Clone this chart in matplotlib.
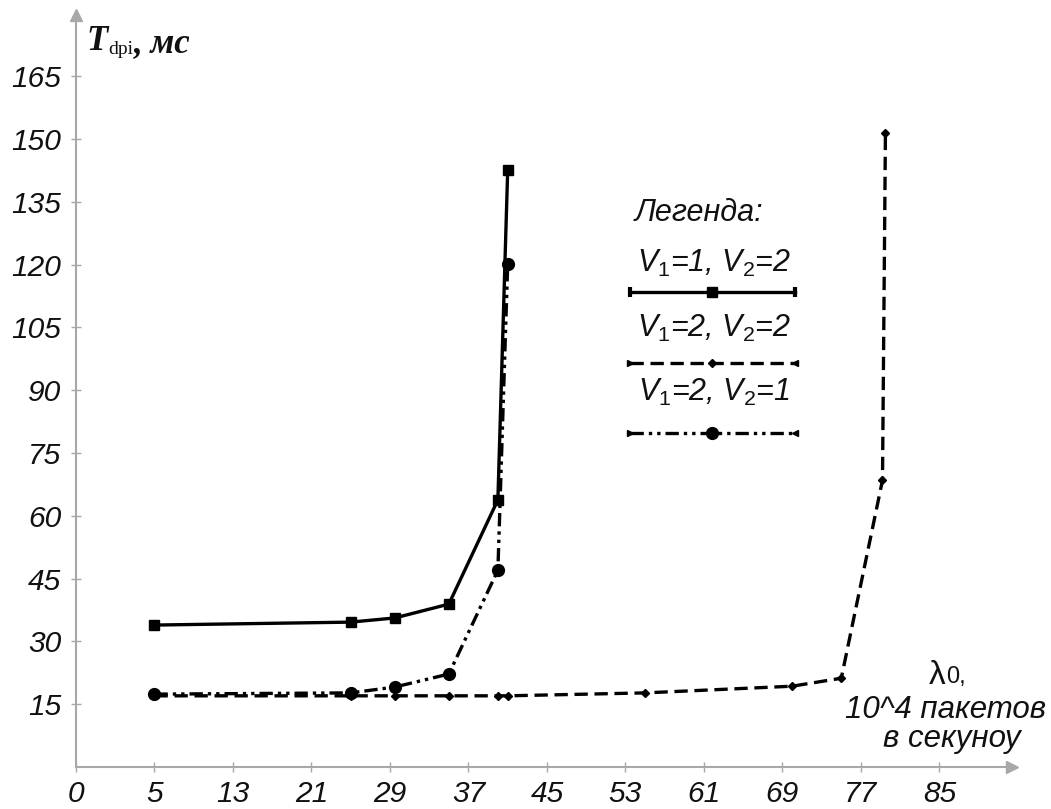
import numpy as np
import matplotlib
matplotlib.use('Agg')
import matplotlib.pyplot as plt
from matplotlib.lines import Line2D

# x axis is drawn with equal spacing between these (uneven) tick values
x_ticks = [0, 5, 13, 21, 29, 37, 45, 53, 61, 69, 77, 85]
y_ticks = [15, 30, 45, 60, 75, 90, 105, 120, 135, 150, 165]

# V1=1, V2=2
x_s1 = [5, 25, 29.5, 35, 40, 41]
y_s1 = [33.9, 34.6, 35.6, 38.9, 63.8, 142.6]
# V1=2, V2=2
x_s2 = [5, 25, 29.5, 35, 40, 41, 55, 70, 75, 79.2, 79.5]
y_s2 = [17.0, 17.0, 17.0, 17.0, 17.0, 17.0, 17.7, 19.3, 21.2, 68.5, 151.4]
# V1=2, V2=1
x_s3 = [5, 25, 29.5, 35, 40, 41]
y_s3 = [17.4, 17.7, 19.1, 22.2, 47.0, 120.1]

labels = ['$V_1$=1, $V_2$=2', '$V_1$=2, $V_2$=2', '$V_1$=2, $V_2$=1']

tick_idx = np.arange(len(x_ticks), dtype=float)


def fwd(v):
    v = np.asarray(v, dtype=float)
    out = np.interp(v, x_ticks, tick_idx)
    out = np.where(v > 85, 11 + (v - 85) / 8.0, out)
    out = np.where(v < 0, v / 5.0, out)
    return out


def inv(u):
    u = np.asarray(u, dtype=float)
    out = np.interp(u, tick_idx, x_ticks)
    out = np.where(u > 11, 85 + (u - 11) * 8.0, out)
    out = np.where(u < 0, u * 5.0, out)
    return out


plt.rcParams['mathtext.fontset'] = 'custom'
plt.rcParams['mathtext.it'] = 'Liberation Sans:italic'
plt.rcParams['mathtext.rm'] = 'Liberation Sans'

W, H = 1051, 809
fig = plt.figure(figsize=(W / 100, H / 100), dpi=100)
ax = fig.add_axes([76 / W, 42 / H, 936 / W, 752 / H])

ax.set_xscale('function', functions=(fwd, inv))
ax.set_xlim(0, 92.4)
ax.set_ylim(0, 179.6)

ax.plot(x_s1, y_s1, color='black', lw=2.4, marker='s', ms=7, clip_on=False)
ax.plot(x_s2, y_s2, color='black', lw=2.4, dashes=(4, 2), marker='D', ms=4.5, clip_on=False)
ax.plot(x_s3, y_s3, color='black', lw=2.4, dashes=(4, 1.5, 1, 1.5, 1, 1.5),
        marker='o', ms=8.5, clip_on=False)

axis_grey = '#a8a8a8'
for side in ['top', 'right']:
    ax.spines[side].set_visible(False)
for side in ['left', 'bottom']:
    ax.spines[side].set_color(axis_grey)
    ax.spines[side].set_linewidth(1.5)
ax.plot([1], [0], marker='>', ms=8, color=axis_grey, transform=ax.transAxes, clip_on=False)
ax.plot([0], [1], marker='^', ms=8, color=axis_grey, transform=ax.transAxes, clip_on=False)

ax.set_xticks(x_ticks)
ax.set_xticklabels([str(t) for t in x_ticks])
ax.set_yticks(y_ticks)
ax.set_yticklabels([str(t) for t in y_ticks])
ax.minorticks_off()
ax.tick_params(direction='inout', length=7, width=1, color=axis_grey, labelcolor='#111111')
ax.tick_params(axis='y', pad=7)
ax.tick_params(axis='x', pad=6)
for lab in ax.get_xticklabels() + ax.get_yticklabels():
    lab.set_fontfamily('Liberation Sans')
    lab.set_fontstyle('italic')
    lab.set_fontsize(21.5)

# y axis title: T (bold italic serif) + small "dpi" + ", мс"
serif = dict(fontfamily='Liberation Serif', fontstyle='italic', fontweight='bold',
             color='#111111')
t_main = fig.text(86 / W, 1 - 50 / H, 'T', fontsize=25, va='baseline', ha='left', **serif)
t_sub = ax.annotate('dpi', xy=(1, 0), xycoords=t_main, xytext=(1, 0),
                    textcoords='offset points', fontsize=14, fontfamily='Liberation Serif',
                    color='#111111', va='bottom', ha='left', annotation_clip=False)
ax.annotate(', мс', xy=(1, 0), xycoords=t_sub, xytext=(0, -1.5),
            textcoords='offset points', fontsize=25, va='bottom', ha='left',
            annotation_clip=False, **serif)

# x axis title
t_lam = fig.text(929 / W, 1 - 675 / H, 'λ', fontfamily='Liberation Sans', fontsize=24,
                 ha='left', va='center', color='#111111')
ax.annotate('0,', xy=(1, 0), xycoords=t_lam, xytext=(0, 2), textcoords='offset points',
            fontfamily='Liberation Sans', fontsize=17, ha='left', va='bottom',
            color='#111111', annotation_clip=False)
fig.text(946 / W, 1 - 710 / H, '10^4 пакетов', fontfamily='Liberation Sans', fontstyle='italic',
         fontsize=22.5, ha='center', va='center', color='#111111')
fig.text(952 / W, 1 - 739 / H, 'в секуноу', fontfamily='Liberation Sans', fontstyle='italic',
         fontsize=22.5, ha='center', va='center', color='#111111')

# hand-drawn legend
fig.text(635 / W, 1 - 213 / H, 'Легенда:', fontfamily='Liberation Sans', fontstyle='italic',
         fontsize=22, ha='left', va='center', color='#111111')
leg_styles = [dict(ls='-', marker='s', ms=7, end='|'),
              dict(dashes=(4, 2), marker='D', ms=4.5, end='tri'),
              dict(dashes=(4, 1.5, 1, 1.5, 1, 1.5), marker='o', ms=8.5, end='tri')]
text_y = [263, 328, 392]
line_y = [292, 363, 433]
for lab, st, ty, ly in zip(labels, leg_styles, text_y, line_y):
    fig.text(714 / W, 1 - ty / H, lab, fontfamily='Liberation Sans', fontstyle='italic',
             fontsize=22, ha='center', va='center', color='#111111')
    yy = 1 - ly / H
    kw = {k: v for k, v in st.items() if k not in ('marker', 'ms', 'end')}
    fig.add_artist(Line2D([630 / W, 795 / W], [yy, yy], color='black', lw=2.4, **kw))
    fig.add_artist(Line2D([712 / W], [yy], color='black', marker=st['marker'], ms=st['ms']))
    if st['end'] == '|':
        fig.add_artist(Line2D([630 / W, 795 / W], [yy, yy], ls='none', color='black',
                              marker='|', ms=7, mew=3))
    else:
        fig.add_artist(Line2D([630 / W], [yy], ls='none', color='black', marker='>', ms=5))
        fig.add_artist(Line2D([795 / W], [yy], ls='none', color='black', marker='<', ms=5))

fig.savefig('out.png', dpi=100, facecolor='white')
